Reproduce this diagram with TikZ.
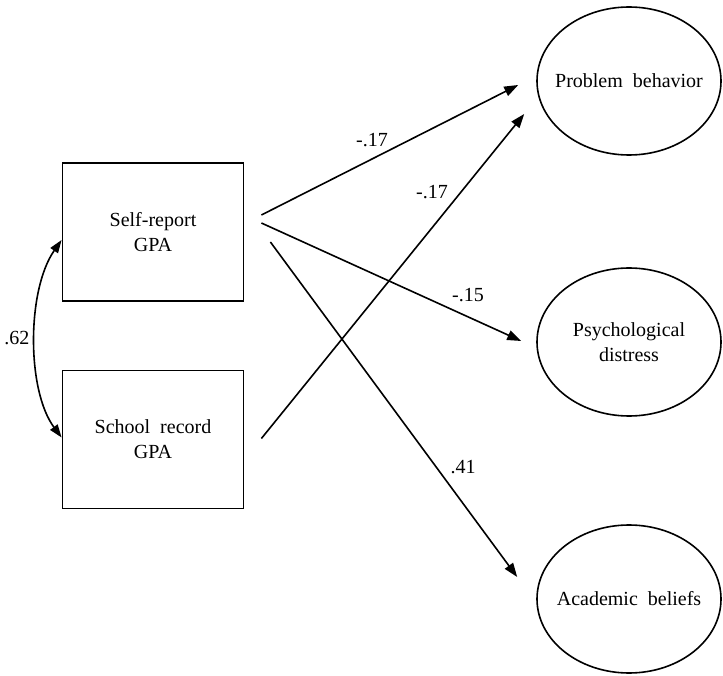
\documentclass[tikz,border=0pt]{standalone}
\usepackage{fontspec}
\setmainfont{Liberation Serif}
\usetikzlibrary{shapes.geometric,arrows.meta,calc}
\begin{document}
\begin{tikzpicture}[x=1pt,y=-1pt,
  box/.style={draw, line width=1.8pt, minimum width=181pt, minimum height=138pt, align=center, inner sep=0pt},
  latent/.style={draw, ellipse, line width=1.6pt, minimum width=184pt, minimum height=148pt, align=center, inner xsep=-20pt, inner ysep=0pt},
  effect/.style={line width=1.6pt, -{Triangle[length=14pt,width=10pt]}},
  corr/.style={line width=1.6pt, {Triangle[length=13pt,width=9pt]}-{Triangle[length=13pt,width=9pt]}},
  coef/.style={inner sep=0pt},
  font=\fontsize{20}{25}\selectfont]
\useasboundingbox (0,0) rectangle (723,676);

\node[box] (sr) at (153,232) {Self-report\\GPA};
\node[box] (sc) at (153,439.5) {School~~record\\GPA};

\node[latent] (pb) at (629,81) {Problem~~behavior};
\node[latent] (pd) at (629,342) {Psychological\\distress};
\node[latent] (ab) at (629,599) {Academic~~beliefs};

\coordinate (s1) at ($(sr.east)+(17,-17)$);
\coordinate (t1) at ($(pb.west)+(-18,4)$);
\coordinate (s2) at ($(sc.east)+(17,-1)$);
\coordinate (t2) at ($(pb.west)+(-12,33)$);
\coordinate (s3) at ($(sr.east)+(17,-9)$);
\coordinate (t3) at ($(pd.west)+(-15,-1)$);
\coordinate (s4) at ($(sr.east)+(26,10)$);
\coordinate (t4) at ($(ab.west)+(-19,-22)$);

\draw[effect] (s1) -- (t1);
\draw[effect] (s2) -- (t2);
\draw[effect] (s3) -- (t3);
\draw[effect] (s4) -- (t4);

\coordinate (c1) at ($(sr.west)+(0,8)$);
\coordinate (c2) at ($(sc.west)+(0,-2)$);
\draw[corr] (c1) .. controls ($(c1)+(-35,50)$) and ($(c2)+(-35,-47)$) .. (c2);

\node[coef] (l1) at (372,140) {-.17};
\node[coef] (l2) at (432,192) {-.17};
\node[coef] (l3) at (468,295) {-.15};
\node[coef] (l4) at (463,467) {.41};
\node[coef] (l5) at (17,338) {.62};
\end{tikzpicture}
\end{document}
